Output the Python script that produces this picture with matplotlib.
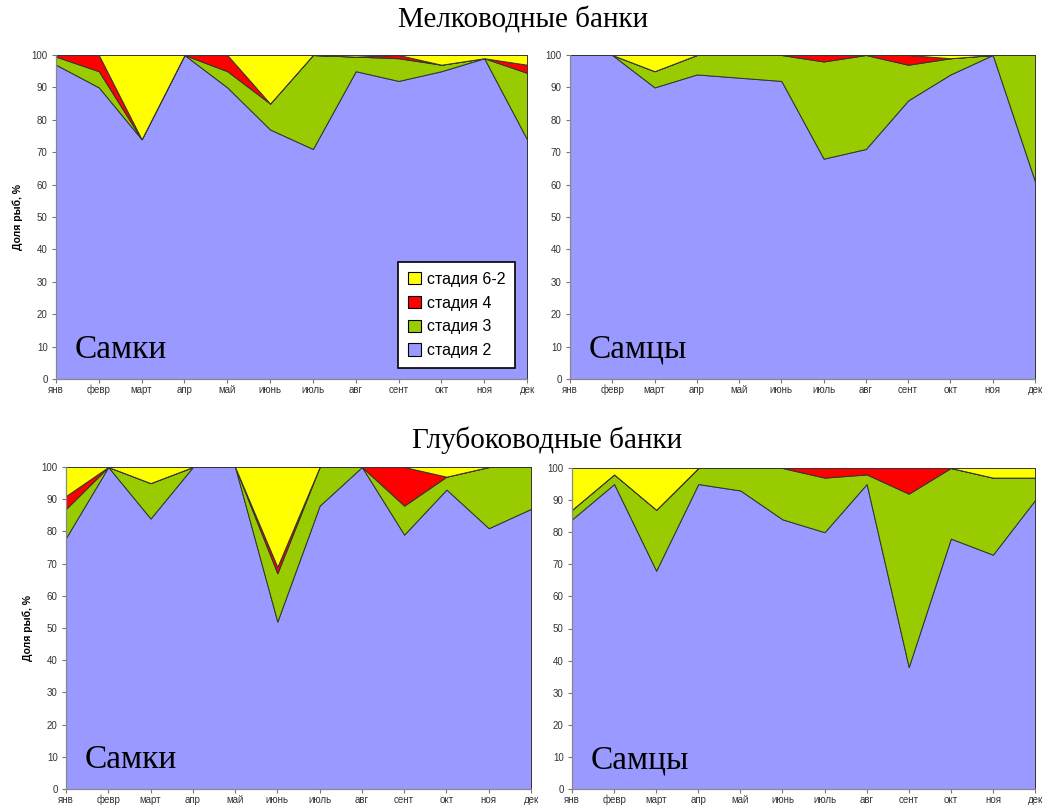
import matplotlib
matplotlib.use("Agg")
import matplotlib.pyplot as plt
from matplotlib.patches import Patch

months = ['янв', 'февр', 'март', 'апр', 'май', 'июнь', 'июль', 'авг', 'сент', 'окт', 'ноя', 'дек']
stage_labels = ['стадия 2', 'стадия 3', 'стадия 4', 'стадия 6-2']

# Мелководные банки, самки
sf_s2 = [97, 90, 74, 100, 90, 77, 71, 95, 92, 95, 99, 74]
sf_s3 = [2.5, 5, 0, 0, 5, 8, 29, 4.5, 7, 2, 0, 20.5]
sf_s4 = [0.5, 5, 0, 0, 5, 0, 0, 0, 1, 0, 0, 2.5]
sf_s6 = [0, 0, 26, 0, 0, 15, 0, 0.5, 0, 3, 1, 3]

# Мелководные банки, самцы
sm_s2 = [100, 100, 90, 94, 93, 92, 68, 71, 86, 94, 100, 61]
sm_s3 = [0, 0, 5, 6, 7, 8, 30, 29, 11, 5, 0, 39]
sm_s4 = [0, 0, 0, 0, 0, 0, 2, 0, 3, 0, 0, 0]
sm_s6 = [0, 0, 5, 0, 0, 0, 0, 0, 0, 1, 0, 0]

# Глубоководные банки, самки
df_s2 = [78, 100, 84, 100, 100, 52, 88, 100, 79, 93, 81, 87]
df_s3 = [9, 0, 11, 0, 0, 15, 12, 0, 9, 4, 19, 13]
df_s4 = [4, 0, 0, 0, 0, 2, 0, 0, 12, 0, 0, 0]
df_s6 = [9, 0, 5, 0, 0, 31, 0, 0, 0, 3, 0, 0]

# Глубоководные банки, самцы
dm_s2 = [84, 95, 68, 95, 93, 84, 80, 95, 38, 78, 73, 90]
dm_s3 = [3, 3, 19, 5, 7, 16, 17, 3, 54, 22, 24, 7]
dm_s4 = [0, 0, 0, 0, 0, 0, 3, 2, 8, 0, 0, 0]
dm_s6 = [13, 2, 13, 0, 0, 0, 0, 0, 0, 0, 3, 3]

colors = ['#9999FF', '#99CC00', '#FF0000', '#FFFF00']

W, H = 1046, 807
fig = plt.figure(figsize=(W / 100, H / 100), dpi=100)
fig.patch.set_facecolor('white')

def ax_at(l, r, t, b):
    return fig.add_axes([l / W, 1 - b / H, (r - l) / W, (b - t) / H])

panels = [
    (ax_at(56, 527, 55, 379), (sf_s2, sf_s3, sf_s4, sf_s6), 'Самки', True, True),
    (ax_at(570, 1035, 55, 379), (sm_s2, sm_s3, sm_s4, sm_s6), 'Самцы', False, False),
    (ax_at(66, 531, 467, 789), (df_s2, df_s3, df_s4, df_s6), 'Самки', True, False),
    (ax_at(572, 1035, 468, 789), (dm_s2, dm_s3, dm_s4, dm_s6), 'Самцы', False, False),
]

tick_font = ['Liberation Sans', 'DejaVu Sans']
serif = ['Liberation Serif', 'DejaVu Serif']

x = list(range(len(months)))
for ax, series, label, ylab, legend in panels:
    ax.stackplot(x, *series, colors=colors, edgecolor='#333333', linewidth=0.7)
    ax.set_xlim(0, 11)
    ax.set_ylim(0, 100)
    ax.set_facecolor('white')
    ax.set_xticks(x)
    ax.set_xticklabels(months, fontsize=7, family=tick_font, color='#333333')
    for t in ax.get_xticklabels():
        t.set_va('baseline')
    ax.set_yticks(range(0, 101, 10))
    ax.set_yticklabels([str(v) for v in range(0, 101, 10)], fontsize=7, family=tick_font, color='#333333')
    ax.tick_params(axis='both', length=3, width=0.8, color='#777777', direction='out', pad=3)
    ax.tick_params(axis='x', pad=7)
    for s in ['top', 'right']:
        ax.spines[s].set_visible(False)
    for s in ['left', 'bottom']:
        ax.spines[s].set_color('#888888')
        ax.spines[s].set_linewidth(0.9)
    ax.text(0.04, 0.065, label, transform=ax.transAxes, fontsize=24, family=serif,
            color='black', va='baseline', ha='left')
    if ylab:
        ax.set_ylabel('Доля рыб, %', fontsize=7.5, fontweight='bold', family=tick_font, labelpad=6)
    if legend:
        handles = [Patch(facecolor=colors[i], edgecolor='black', linewidth=0.8, label=stage_labels[i])
                   for i in [3, 2, 1, 0]]
        leg = ax.legend(handles=handles, loc='lower right', bbox_to_anchor=(0.975, 0.035),
                        prop={'family': tick_font, 'size': 11.5}, frameon=True, fancybox=False,
                        handlelength=0.8, handleheight=0.8, handletextpad=0.4,
                        labelspacing=0.55, borderpad=0.6, borderaxespad=0)
        leg.get_frame().set_edgecolor('black')
        leg.get_frame().set_linewidth(1.2)
        leg.get_frame().set_facecolor('white')
        leg.get_frame().set_alpha(1)

fig.text(523 / W, 1 - 20 / H, 'Мелководные банки', ha='center', va='center', fontsize=21, family=serif)
fig.text(547 / W, 1 - 440 / H, 'Глубоководные банки', ha='center', va='center', fontsize=21, family=serif)

fig.savefig('out.png', dpi=100, facecolor='white')
